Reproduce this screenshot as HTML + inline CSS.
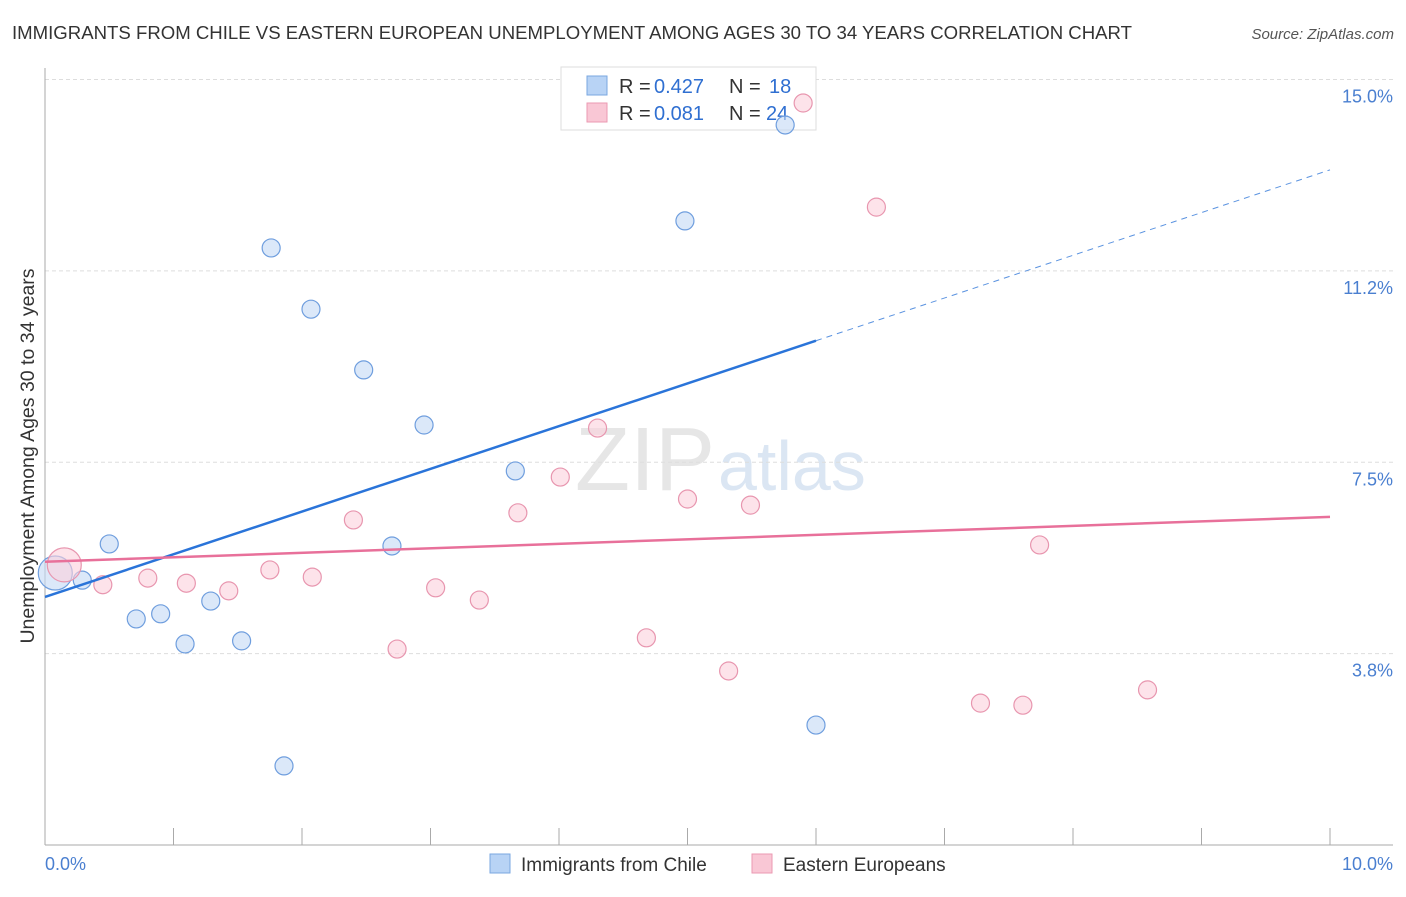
<!DOCTYPE html>
<html><head><meta charset="utf-8"><style>
body{margin:0;background:#fff;font-family:"Liberation Sans",sans-serif;}
svg text{font-family:"Liberation Sans",sans-serif;}
</style></head><body>
<svg id="c" width="1406" height="892" xmlns="http://www.w3.org/2000/svg">
<text x="12" y="39" font-size="18.6" fill="#333">IMMIGRANTS FROM CHILE VS EASTERN EUROPEAN UNEMPLOYMENT AMONG AGES 30 TO 34 YEARS CORRELATION CHART</text>
<text x="1394" y="39" font-size="15" fill="#555" font-style="italic" text-anchor="end">Source: ZipAtlas.com</text>
<text x="715" y="490" font-size="90" fill="#e6e6e6" text-anchor="end" font-family="Liberation Serif">ZIP</text>
<text x="718" y="490" font-size="70" fill="#dbe6f3">atlas</text>
<g id="grid"></g>
<g>
<rect x="561" y="67" width="255" height="63" fill="#fff" stroke="#ddd"/>
<rect x="587" y="76" width="20" height="19" fill="#b8d3f5" stroke="#7aa7e0"/>
<rect x="587" y="103" width="20" height="19" fill="#f9c7d5" stroke="#eb9ab2"/>
<text x="619" y="93" font-size="20" fill="#333">R =</text>
<text x="654" y="93" font-size="20" fill="#2f6fd1">0.427</text>
<text x="729" y="93" font-size="20" fill="#333">N =</text>
<text x="769" y="93" font-size="20" fill="#2f6fd1">18</text>
<text x="619" y="120" font-size="20" fill="#333">R =</text>
<text x="654" y="120" font-size="20" fill="#2f6fd1">0.081</text>
<text x="729" y="120" font-size="20" fill="#333">N =</text>
<text x="766" y="120" font-size="20" fill="#2f6fd1">24</text>
</g>
<g id="marks"></g>
<text transform="translate(34,456) rotate(-90)" font-size="19.5" fill="#333" text-anchor="middle">Unemployment Among Ages 30 to 34 years</text>
<text x="45" y="870" font-size="18" fill="#4a7fd0">0.0%</text>
<text x="1393" y="870" font-size="18" fill="#4a7fd0" text-anchor="end">10.0%</text>
<g>
<rect x="490" y="854" width="20" height="19" fill="#b8d3f5" stroke="#7aa7e0"/>
<text x="521" y="871" font-size="19" fill="#333">Immigrants from Chile</text>
<rect x="752" y="854" width="20" height="19" fill="#f9c7d5" stroke="#eb9ab2"/>
<text x="783" y="871" font-size="19" fill="#333">Eastern Europeans</text>
</g>
</svg>
<script>
const yTicks=[3.75,7.5,11.25,15];
const yTickLabels=["3.8%","7.5%","11.2%","15.0%"];
const xTicks=[1,2,3,4,5,6,7,8,9,10];
const blueX=[0.08,0.29,0.50,0.71,0.90,1.09,1.29,1.53,1.76,1.86,2.07,2.48,2.95,2.70,3.66,4.98,5.76,6.00];
const blueY=[5.33,5.19,5.90,4.43,4.53,3.94,4.78,4.00,11.70,1.55,10.50,9.31,8.23,5.86,7.33,12.23,14.11,2.35];
const pinkX=[0.15,0.45,0.80,1.10,1.43,1.75,2.08,2.40,2.74,3.04,3.38,3.68,4.01,4.30,4.68,5.00,5.32,5.49,5.90,6.47,7.28,7.61,7.74,8.58];
const pinkY=[5.49,5.10,5.23,5.13,4.98,5.39,5.25,6.37,3.84,5.04,4.80,6.51,7.21,8.17,4.06,6.78,3.41,6.66,14.54,12.50,2.78,2.74,5.88,3.04];
const blueLine=[4.86,13.23];const blueSolidEnd=6.0;
const pinkLine=[5.55,6.43];
const X=v=>45+v*128.5, Y=v=>845-v*51.03;
const NS="http://www.w3.org/2000/svg";
function mk(p,t,a){const e=document.createElementNS(NS,t);for(const k in a)e.setAttribute(k,a[k]);p.appendChild(e);return e;}
const g=document.getElementById('grid'),m=document.getElementById('marks');
yTicks.forEach((t,i)=>{
 const l=mk(g,'line',{x1:45,x2:1393,y1:Y(t),y2:Y(t),stroke:'#ddd','stroke-dasharray':'4,3'});
 
 
 const tx=mk(g,'text',{x:1393,y:Y(t)+23,'font-size':18,fill:'#4a7fd0','text-anchor':'end'});
 tx.textContent=yTickLabels[i];
 
 
});
const ax=mk(g,'line',{x1:45,x2:45,y1:68,y2:845,stroke:'#aaa'});


const bx=mk(g,'line',{x1:45,x2:1393,y1:845,y2:845,stroke:'#aaa'});


xTicks.forEach(t=>{const l=mk(g,'line',{x1:X(t),x2:X(t),y1:828,y2:845,stroke:'#aaa'});
 
 });
function dots(xs,ys,fill,stroke,name){xs.forEach((x,i)=>{const r=i==0?17:9;
 const c=mk(m,'circle',{cx:X(x),cy:Y(ys[i]),r:r,fill:fill,'fill-opacity':0.6,stroke:stroke,'stroke-width':1.2});
 
 });}
dots(blueX,blueY,'#c3d9f5','#6f9ede','blue-point');
dots(pinkX,pinkY,'#fbd0dc','#e896af','pink-point');
const by=x=>blueLine[0]+(blueLine[1]-blueLine[0])*x/10;
let l=mk(m,'line',{x1:X(0),y1:Y(by(0)),x2:X(blueSolidEnd),y2:Y(by(blueSolidEnd)),stroke:'#2a74d9','stroke-width':2.5});


l=mk(m,'line',{x1:X(blueSolidEnd),y1:Y(by(blueSolidEnd)),x2:X(10),y2:Y(by(10)),stroke:'#5b93e0','stroke-width':1,'stroke-dasharray':'6,5'});


l=mk(m,'line',{x1:X(0),y1:Y(pinkLine[0]),x2:X(10),y2:Y(pinkLine[1]),stroke:'#e8709a','stroke-width':2.5});


</script>
</body></html>
